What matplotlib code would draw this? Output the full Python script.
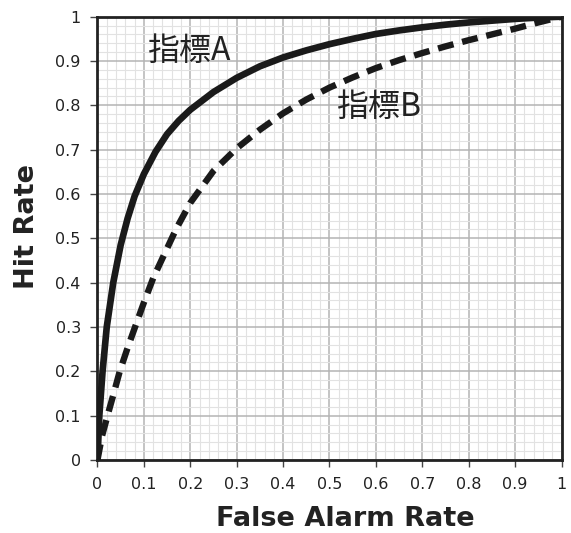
import matplotlib.pyplot as plt
from matplotlib.ticker import MultipleLocator, FormatStrFormatter

# ROC curves
faA = [0, 0.004, 0.011, 0.02, 0.034, 0.05, 0.065, 0.08, 0.1, 0.125, 0.15, 0.175,
       0.2, 0.25, 0.3, 0.35, 0.4, 0.45, 0.5, 0.55, 0.6, 0.65, 0.7, 0.75, 0.8,
       0.85, 0.9, 0.95, 1.0]
hitA = [0, 0.1, 0.2, 0.3, 0.4, 0.485, 0.545, 0.595, 0.645, 0.695, 0.735, 0.765,
        0.79, 0.83, 0.862, 0.888, 0.908, 0.924, 0.938, 0.95, 0.961, 0.969, 0.976,
        0.982, 0.987, 0.991, 0.995, 0.998, 1.0]

faB = [0, 0.01, 0.023, 0.035, 0.048, 0.064, 0.081, 0.1, 0.12, 0.14, 0.17, 0.2,
       0.25, 0.3, 0.35, 0.4, 0.45, 0.5, 0.55, 0.6, 0.65, 0.7, 0.75, 0.8, 0.85,
       0.9, 0.95, 1.0]
hitB = [0, 0.055, 0.105, 0.15, 0.2, 0.25, 0.3, 0.355, 0.41, 0.455, 0.522, 0.58,
        0.652, 0.703, 0.745, 0.782, 0.813, 0.84, 0.863, 0.884, 0.902, 0.918,
        0.933, 0.947, 0.96, 0.973, 0.987, 1.0]

labels = ['指標A', '指標B']
labelPos = [(0.106, 0.923), (0.515, 0.796)]

fig = plt.figure(figsize=(5.71, 5.33), dpi=100)
ax = fig.add_axes([0.1707, 0.137, 0.8127, 0.8317])

ax.plot(faA, hitA, color='#1a1a1a', lw=4.8, solid_joinstyle='round', zorder=3)
ax.plot(faB, hitB, color='#1a1a1a', lw=4.6, ls=(0, (2.5, 1.4)),
        dash_capstyle='butt', dash_joinstyle='round', zorder=3)

for txt, (x, y) in zip(labels, labelPos):
    ax.text(x, y, txt, fontsize=23, va='center', ha='left', color='#222222',
            family=['Noto Sans CJK JP', 'DejaVu Sans'], zorder=4)

ax.set_xlim(0, 1)
ax.set_ylim(0, 1)
ax.xaxis.set_major_locator(MultipleLocator(0.1))
ax.yaxis.set_major_locator(MultipleLocator(0.1))
ax.xaxis.set_minor_locator(MultipleLocator(0.02))
ax.yaxis.set_minor_locator(MultipleLocator(0.02))
ax.xaxis.set_major_formatter(FormatStrFormatter('%g'))
ax.yaxis.set_major_formatter(FormatStrFormatter('%g'))

ax.grid(True, which='minor', color='#e2e2e2', lw=0.8, zorder=0)
ax.grid(True, which='major', color='#b4b4b4', lw=1.1, zorder=1)
ax.set_axisbelow(True)

ax.tick_params(which='major', direction='out', length=5, width=1, color='#444444',
               labelsize=11.5, labelcolor='#222222', pad=7)
ax.tick_params(which='minor', length=0)

for s in ax.spines.values():
    s.set_linewidth(2)
    s.set_color('#222222')

ax.set_xlabel('False Alarm Rate', fontsize=19.5, fontweight='bold', color='#222222')
ax.xaxis.set_label_coords(0.535, -0.133)
ax.xaxis.label.set_va('center')
ax.set_ylabel('Hit Rate', fontsize=19.5, fontweight='bold', color='#222222')
ax.yaxis.set_label_coords(-0.152, 0.526)
ax.yaxis.label.set_va('center')

fig.savefig('out.png', dpi=100)
